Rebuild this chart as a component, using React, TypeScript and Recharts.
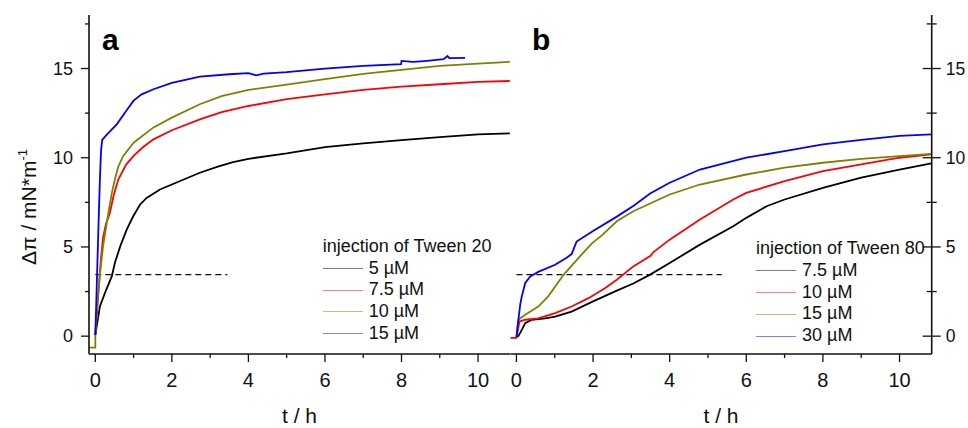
import React from 'react';
import { LineChart, Line, XAxis, YAxis, ReferenceLine, Legend } from 'recharts';

// ---------- data (t in h, Δπ in mN/m) ----------
const a5uM = [[0,0.07],[0.12,1.66],[0.25,2.41],[0.43,3.35],[0.51,4.1],[0.65,5.03],[0.82,5.97],[0.99,6.72],[1.17,7.38],[1.34,7.75],[1.69,8.22],[2,8.5],[2.73,9.16],[3.2,9.5],[3.6,9.76],[4,9.94],[5,10.24],[6,10.6],[7,10.8],[8,10.99],[9,11.16],[10,11.31],[10.83,11.37]];
const a7_5uM = [[0,0.07],[0.05,1.5],[0.1,3.0],[0.15,4.4],[0.2,5.5],[0.28,6.3],[0.38,6.9],[0.48,7.9],[0.6,8.78],[0.8,9.6],[1.0,10.1],[1.25,10.6],[1.52,11.03],[2,11.54],[2.73,12.15],[3.3,12.55],[4,12.9],[5,13.28],[6,13.55],[7,13.8],[8,13.99],[9,14.12],[10,14.25],[10.83,14.3]];
const a10uM = [[-0.17,-0.64],[0,-0.64],[0,0.07],[0.06,2.0],[0.12,3.45],[0.2,5.0],[0.34,6.9],[0.43,8.0],[0.51,8.78],[0.6,9.5],[0.73,10.1],[1.0,10.84],[1.52,11.7],[2,12.25],[2.73,13.0],[3.3,13.45],[4,13.8],[5,14.1],[6,14.4],[7,14.7],[8,14.93],[9,15.15],[10,15.28],[10.83,15.37]];
const a15uM = [[0,0.07],[0.04,3.0],[0.08,6.0],[0.12,8.8],[0.15,10.4],[0.18,11.0],[0.3,11.3],[0.56,11.87],[0.8,12.6],[1.0,13.2],[1.21,13.55],[1.52,13.84],[2,14.2],[2.73,14.55],[3.5,14.68],[4,14.74],[4.2,14.62],[4.4,14.72],[5,14.8],[6,15.0],[7,15.15],[7.99,15.24],[8.0,15.43],[8.3,15.37],[8.6,15.42],[9.1,15.52],[9.2,15.7],[9.25,15.58],[9.66,15.6]];

const b7_5uM = [[0,-0.05],[0.05,0],[0.14,0.35],[0.23,0.73],[0.4,0.92],[0.75,1.0],[1.01,1.1],[1.44,1.38],[2,1.95],[2.62,2.55],[3.05,2.95],[3.49,3.45],[4,4.1],[4.79,5.13],[5.66,6.16],[6,6.63],[6.53,7.28],[7,7.66],[8,8.31],[9,8.88],[10,9.34],[10.83,9.68]];
const b10uM = [[-0.16,-0.1],[0,-0.1],[0.08,0.82],[0.23,0.92],[0.57,1.0],[1.01,1.29],[1.44,1.66],[1.88,2.13],[2.31,2.69],[2.62,3.16],[3.05,3.91],[3.5,4.5],[3.57,4.7],[4,5.41],[4.79,6.54],[5.66,7.66],[6,8.03],[7,8.69],[8,9.25],[9,9.63],[10,10.0],[10.83,10.19]];
const b15uM = [[0,-0.05],[0.05,0.92],[0.23,1.2],[0.57,1.66],[0.83,2.23],[1.23,3.44],[1.7,4.57],[1.97,5.2],[2.23,5.65],[2.62,6.44],[3.05,7.0],[4,7.94],[4.79,8.5],[6,9.06],[7,9.44],[8,9.72],[9,9.94],[10,10.09],[10.83,10.22]];
const b30uM = [[0,-0.05],[0.05,0.9],[0.1,1.8],[0.14,2.23],[0.23,2.98],[0.36,3.35],[0.57,3.6],[1.01,4.0],[1.31,4.4],[1.44,4.6],[1.57,5.3],[2,5.9],[2.62,6.7],[3.05,7.3],[3.49,8.0],[4,8.6],[4.79,9.34],[6,10.0],[7,10.37],[8,10.75],[9,11.0],[10,11.22],[10.83,11.31]];

const dashA = [{ x: 0, y: 3.45 }, { x: 3.45, y: 3.45 }];
const dashB = [{ x: 0, y: 3.45 }, { x: 5.36, y: 3.45 }];

const xTicks = [0,1,2,3,4,5,6,7,8,9,10];
const xMajor = [0,2,4,6,8,10];
const yTicks = [0,2.5,5,7.5,10,12.5,15,17.5];
const yMajor = [0,5,10,15];
const xDomainA = [-0.165, 10.835];
const xDomainB = [-0.16, 10.84];
const yDomain = [-1, 18];

const namesA = ['5 µM', '7.5 µM', '10 µM', '15 µM'];
const namesB = ['7.5 µM', '10 µM', '15 µM', '30 µM'];
const titleA = 'injection of Tween 20';
const titleB = 'injection of Tween 80';
const colors = ['#000000', '#ff0000', '#808000', '#0000ff'];

const seriesA = [a5uM, a7_5uM, a10uM, a15uM].map((s) => s.map(([t, v]) => ({ t, v })));
const seriesB = [b7_5uM, b10uM, b15uM, b30uM].map((s) => s.map(([t, v]) => ({ t, v })));

// ---------- styles ----------
const FONT = "'Liberation Sans', Arial, Helvetica, sans-serif";
const INK = '#111';
const AXIS = { stroke: INK, strokeWidth: 1.6 };

const isMajorX = (v: number) => xMajor.includes(v);
const isMajorY = (v: number) => yMajor.includes(v);

const BottomTick = (p: any) => {
  const major = isMajorX(p.payload.value);
  return (
    <g>
      <line x1={p.x} x2={p.x} y1={p.y} y2={p.y + (major ? 8 : 4)} stroke={INK} strokeWidth={1.3} />
      {major && (
        <text x={p.x} y={p.y + 33} textAnchor="middle" fontSize={20} fontFamily={FONT} fill={INK}>
          {p.payload.value}
        </text>
      )}
    </g>
  );
};
const TopTick = (p: any) => {
  const major = isMajorX(p.payload.value);
  return <line x1={p.x} x2={p.x} y1={p.y} y2={p.y + (major ? 10 : 5)} stroke={INK} strokeWidth={1.3} />;
};
const LeftLabelTick = (p: any) => {
  const major = isMajorY(p.payload.value);
  return (
    <g>
      <line x1={p.x - (major ? 8 : 4)} x2={p.x} y1={p.y} y2={p.y} stroke={INK} strokeWidth={1.3} />
      {major && (
        <text x={p.x - 16} y={p.y + 6} textAnchor="end" fontSize={18} fontFamily={FONT} fill={INK}>
          {p.payload.value}
        </text>
      )}
    </g>
  );
};
const InnerLeftwardTick = (p: any) => {
  const major = isMajorY(p.payload.value);
  return <line x1={p.x - (major ? 8 : 4)} x2={p.x} y1={p.y} y2={p.y} stroke={INK} strokeWidth={1.3} />;
};
const InnerRightwardTick = (p: any) => {
  const major = isMajorY(p.payload.value);
  return <line x1={p.x} x2={p.x + (major ? 10 : 5)} y1={p.y} y2={p.y} stroke={INK} strokeWidth={1.3} />;
};
const RightLabelTick = (p: any) => {
  const major = isMajorY(p.payload.value);
  const len = major ? 9 : 5;
  return (
    <g>
      <line x1={p.x - len} x2={p.x + len} y1={p.y} y2={p.y} stroke={INK} strokeWidth={1.3} />
      {major && (
        <text x={p.x + 14} y={p.y + 6} textAnchor="start" fontSize={17.5} fontFamily={FONT} fill={INK}>
          {p.payload.value}
        </text>
      )}
    </g>
  );
};

const makeLegend = (title: string, names: string[]) => () => (
  <div style={{ fontFamily: FONT, fontSize: 18, color: INK, lineHeight: '21.7px', whiteSpace: 'nowrap', textAlign: 'left' }}>
    <div>{title}</div>
    {names.map((n, i) => (
      <div key={n} style={{ display: 'flex', alignItems: 'center', height: 21.7 }}>
        <svg width={40} height={3} style={{ display: 'block' }}>
          <line x1={0} x2={40} y1={1.5} y2={1.5} stroke={colors[i]} strokeOpacity={0.5} strokeWidth={1.2} />
        </svg>
        <span style={{ marginLeft: 6 }}>{n}</span>
      </div>
    ))}
  </div>
);

const YTitle = () => (
  <text transform="translate(36,207) rotate(-90)" textAnchor="middle" fontSize={21} fontFamily={FONT} fill={INK}>
    Δπ / mN*m<tspan dy={-9} fontSize={13}>-1</tspan>
  </text>
);

const xLabel = { value: 't / h', position: 'insideBottom' as const, offset: 5, fontSize: 21, fontFamily: FONT, fill: INK };

export default function App() {
  return (
    <div style={{ position: 'absolute', left: 0, top: 0, width: 968, height: 428, background: '#fff' }}>
      {/* Panel a */}
      <div style={{ position: 'absolute', left: 0, top: 0 }}>
        <LineChart width={520} height={428} margin={{ top: 15, right: 10, bottom: 0, left: 0 }}>
          <XAxis xAxisId="t" orientation="top" type="number" dataKey="t" domain={xDomainA} ticks={xTicks} allowDataOverflow height={0}
            tickSize={0} tickMargin={0} tickLine={false} axisLine={AXIS} tick={TopTick} interval={0} />
          <XAxis xAxisId="b" type="number" dataKey="t" domain={xDomainA} ticks={xTicks} allowDataOverflow height={74}
            tickSize={0} tickMargin={0} tickLine={false} axisLine={AXIS} tick={BottomTick} interval={0} label={xLabel} />
          <YAxis yAxisId="l" type="number" domain={yDomain} ticks={yTicks} allowDataOverflow width={89}
            tickSize={0} tickMargin={0} tickLine={false} axisLine={AXIS} tick={LeftLabelTick} interval={0}
            label={{ content: () => <YTitle /> }} />
          <YAxis yAxisId="r" orientation="right" type="number" domain={yDomain} ticks={yTicks} allowDataOverflow width={0}
            tickSize={0} tickMargin={0} tickLine={false} axisLine={AXIS} tick={InnerLeftwardTick} interval={0} />
          <ReferenceLine xAxisId="b" yAxisId="l" segment={dashA} stroke={INK} strokeWidth={1.2} strokeDasharray="6 4" />
          {seriesA.map((d, i) => (
            <Line key={namesA[i]} xAxisId="b" yAxisId="l" data={d} dataKey="v" name={namesA[i]} type="linear"
              stroke={colors[i]} strokeWidth={1.8} dot={false} isAnimationActive={false} />
          ))}
          <Legend layout="vertical" align="center" verticalAlign="middle" content={makeLegend(titleA, namesA)}
            wrapperStyle={{ left: 322.7, top: 236, width: 190, height: 110 }} />
        </LineChart>
      </div>
      {/* Panel b */}
      <div style={{ position: 'absolute', left: 500, top: 0 }}>
        <LineChart width={468} height={428} margin={{ top: 15, right: 0, bottom: 0, left: 10.3 }}>
          <XAxis xAxisId="t" orientation="top" type="number" dataKey="t" domain={xDomainB} ticks={xTicks} allowDataOverflow height={0}
            tickSize={0} tickMargin={0} tickLine={false} axisLine={AXIS} tick={TopTick} interval={0} />
          <XAxis xAxisId="b" type="number" dataKey="t" domain={xDomainB} ticks={xTicks} allowDataOverflow height={74}
            tickSize={0} tickMargin={0} tickLine={false} axisLine={AXIS} tick={BottomTick} interval={0} label={xLabel} />
          <YAxis yAxisId="l" type="number" domain={yDomain} ticks={yTicks} allowDataOverflow width={0}
            tickSize={0} tickMargin={0} tickLine={false} axisLine={AXIS} tick={InnerRightwardTick} interval={0} />
          <YAxis yAxisId="r" orientation="right" type="number" domain={yDomain} ticks={yTicks} allowDataOverflow width={36.3}
            tickSize={0} tickMargin={0} tickLine={false} axisLine={AXIS} tick={RightLabelTick} interval={0} />
          <ReferenceLine xAxisId="b" yAxisId="l" segment={dashB} stroke={INK} strokeWidth={1.2} strokeDasharray="6 4" />
          {seriesB.map((d, i) => (
            <Line key={namesB[i]} xAxisId="b" yAxisId="l" data={d} dataKey="v" name={namesB[i]} type="linear"
              stroke={colors[i]} strokeWidth={1.8} dot={false} isAnimationActive={false} />
          ))}
          <Legend layout="vertical" align="center" verticalAlign="middle" content={makeLegend(titleB, namesB)}
            wrapperStyle={{ left: 256, top: 238.4, width: 200, height: 110 }} />
        </LineChart>
      </div>
      {/* panel letters */}
      <svg width={968} height={428} style={{ position: 'absolute', left: 0, top: 0, pointerEvents: 'none' }}>
        <text x={102} y={50} fontSize={30} fontWeight="bold" fontFamily={FONT} fill="#000">a</text>
        <text x={532} y={50} fontSize={30} fontWeight="bold" fontFamily={FONT} fill="#000">b</text>
      </svg>
    </div>
  );
}
